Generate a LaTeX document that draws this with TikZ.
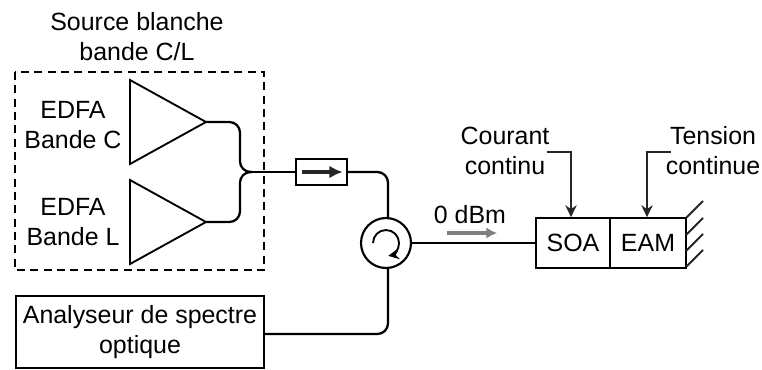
\documentclass[tikz,border=0pt]{standalone}
\usepackage{fontspec}
\setmainfont{Liberation Sans}
\usetikzlibrary{arrows.meta,calc}
\tikzset{
  lbl/.style={align=center,inner sep=0pt,font=\fontsize{18.7pt}{22.5pt}\selectfont},
  wire/.style={line width=1.7pt,rounded corners=8pt},
  boxn/.style={draw,line width=1.7pt,inner sep=0pt,minimum height=0pt},
  amp/.style={draw,line width=1.4pt,line join=miter},
  feed/.style={line width=1.9pt,draw=black!85,-{Stealth[length=9pt,width=8.5pt]}},
  hatchl/.style={line width=1.4pt,draw=black!85},
}
\begin{document}
\begin{tikzpicture}[x=0.75pt,y=-0.75pt]
\useasboundingbox (0,0) rectangle (762,369);
% dashed source box
\draw[line width=1.4pt,dash pattern=on 6pt off 4pt] (15,72) rectangle (264,270);
% amplifiers
\coordinate (tipC) at (206,122);
\coordinate (tipL) at (206,222);
\draw[amp] (130,80) -- (130,164) -- (tipC) -- cycle;
\draw[amp] (130,180) -- (130,264) -- (tipL) -- cycle;
% components
\node[boxn,minimum width=38.25pt,minimum height=19.5pt] (iso) at (321.5,172) {};
\node[draw,circle,line width=1.6pt,minimum size=37.5pt,inner sep=0pt] (circ) at (386,243) {};
\node[boxn,minimum width=186pt,minimum height=53.5pt] (osa) at (140,332) {};
\node[boxn,minimum width=55.5pt,minimum height=37pt] (soa) at (573,243) {};
\node[boxn,minimum width=57pt,minimum height=37pt] (eam) at (648,243) {};
\coordinate (merge) at (252,172);
\coordinate (circT) at (388,219);
\coordinate (circB) at (388,267);
\coordinate (cornerA) at (388,172);
\coordinate (cornerB) at (388,334);
% wires
\draw[wire] (tipC) -- (240,122) -- (240,172) -- (merge);
\draw[wire] (tipL) -- (240,222) -- (240,172) -- (merge);
\draw[wire] (merge) -- (iso.west);
\draw[wire] (iso.east) -- (cornerA) -- (circT);
\draw[wire] (circB) -- (cornerB) -- (osa.east |- cornerB);
\draw[line width=1.7pt] (circ.east) -- (soa.west);
% isolator arrow
\node[inner sep=0pt,minimum size=0pt] (isoA) at (302,172) {};
\node[inner sep=0pt,minimum size=0pt] (isoB) at (343,172) {};
\draw[line width=2.3pt,draw=black!85,-{Latex[length=10pt,width=9.5pt]}] (isoA) -- (isoB);
% circulator arrow
\draw[line width=1.4pt,-{Stealth[length=8pt,width=8pt]}] (373,243) arc[start angle=180,end angle=440,radius=13];
% gray arrow
\coordinate (gA) at (447,233);
\coordinate (gB) at (497,233);
\draw[line width=2.6pt,draw=black!50,-{Latex[length=8pt,width=8.5pt]}] (gA) -- (gB);
% control inputs
\coordinate (cA) at (547,152);
\coordinate (cB) at (571,152);
\coordinate (tA) at (671,152);
\coordinate (tB) at (647,152);
\draw[feed] (cA) -- (cB) -- (cB |- soa.north);
\draw[feed] (tA) -- (tB) -- (tB |- eam.north);
% mirror hatching
\foreach \y in {218,235,251,267}{
  \draw[hatchl] (686,\y) -- ++(17,-17);
}
% labels
\node[lbl] (t1) at (137,37) {Source blanche\\bande C/L};
\node[lbl] (t2) at (73,125) {EDFA\\Bande C};
\node[lbl] (t3) at (73,222) {EDFA\\Bande L};
\node[lbl] at (osa.center) {Analyseur de spectre\\optique};
\node[lbl] (t4) at (470,215) {0 dBm};
\node[lbl] (t5) at (505,151) {Courant\\continu};
\node[lbl] (t6) at (713,151) {Tension\\continue};
\node[lbl] at (soa.center) {SOA};
\node[lbl] at (eam.center) {EAM};
\end{tikzpicture}
\end{document}
